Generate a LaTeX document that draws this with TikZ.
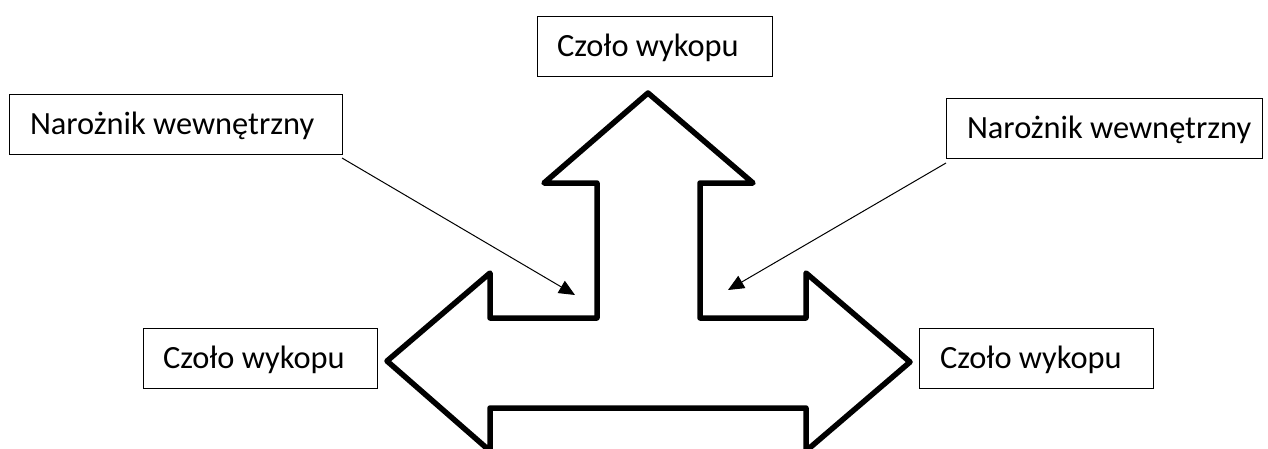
\documentclass[tikz,border=0pt]{standalone}
\usepackage{fontspec}
\setmainfont{Carlito}
\usetikzlibrary{arrows.meta}

% fixed-width label with a left indent
\newcommand\boxlabel[3]{\makebox[#1pt][l]{\hspace*{#2pt}#3}}

\tikzset{
  labelbox/.style={draw, line width=1pt, inner xsep=0pt, inner ysep=0pt,
    outer sep=0pt, minimum height=60pt, text height=26pt, text depth=6pt,
    anchor=north west, font=\fontsize{32.4}{38}\selectfont},
  outline/.style={draw, line width=5.5pt, line join=round},
  pointer/.style={draw, line width=1pt, -{Triangle[length=16pt,width=14pt]}}
}

\begin{document}
\begin{tikzpicture}[x=1pt,y=-1pt]
\useasboundingbox (0,0) rectangle (1268,448);

% three-way arrow outline
\path[outline] (648,93) -- (753,183) -- (700,183) -- (700,318) -- (806,318)
  -- (806,273) -- (910,362) -- (806,451) -- (806,408) -- (490,408)
  -- (490,451) -- (387,361) -- (490,273) -- (490,318) -- (597,318)
  -- (597,183) -- (544,183) -- cycle;

% labels
\node[labelbox] (top) at (537,16) {\boxlabel{235}{20}{Czoło wykopu}};
\node[labelbox] (lu)  at (9,94)   {\boxlabel{333}{21}{Narożnik wewnętrzny}};
\node[labelbox] (ru)  at (946,98) {\boxlabel{316}{21}{Narożnik wewnętrzny}};
\node[labelbox] (ll)  at (143,328) {\boxlabel{234}{20}{Czoło wykopu}};
\node[labelbox] (rl)  at (919,328) {\boxlabel{234}{21}{Czoło wykopu}};

% inner corner pointers
\coordinate (cornerL) at (575,295);
\coordinate (cornerR) at (728,290);
\draw[pointer] ([yshift=-4pt]lu.south east) -- (cornerL);
\draw[pointer] ([yshift=-5pt]ru.south west) -- (cornerR);
\end{tikzpicture}
\end{document}
